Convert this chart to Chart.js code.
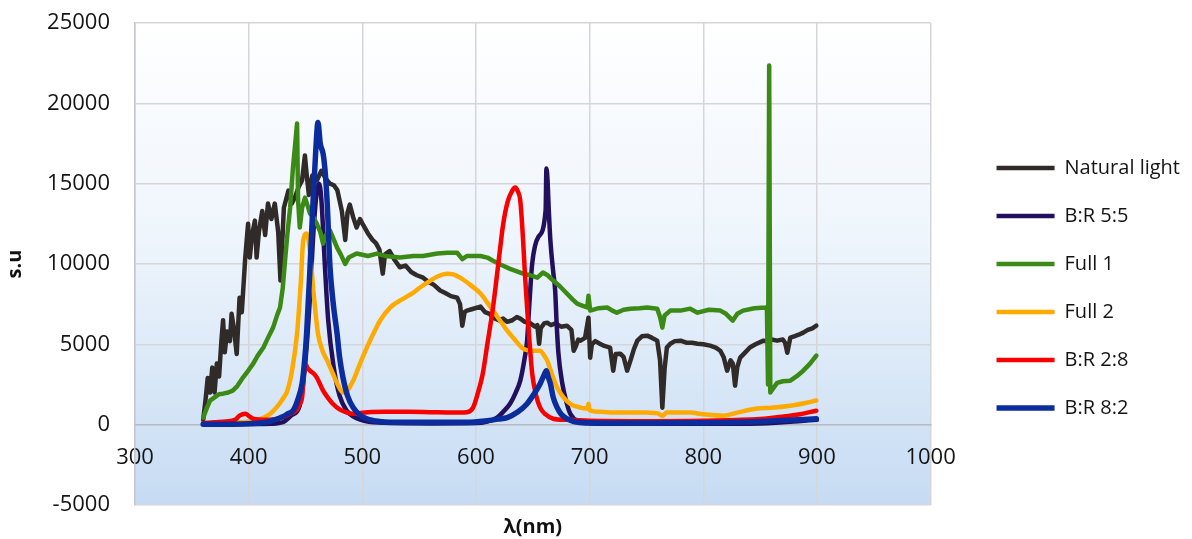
<!DOCTYPE html>
<html>
<head>
<meta charset="utf-8">
<script src="https://cdn.jsdelivr.net/npm/chart.js@4.4.0/dist/chart.umd.min.js"></script>
<style>
  html, body { margin: 0; padding: 0; background: #ffffff; }
  #wrap { width: 1192px; height: 539px; position: relative; }
</style>
</head>
<body>
<div id="wrap"><canvas id="spectra"></canvas></div>
<script>
// wavelength axis ticks
const xTicks = [300, 400, 500, 600, 700, 800, 900, 1000];
const yTicks = [-5000, 0, 5000, 10000, 15000, 20000, 25000];

// Natural light
const natWl = [360, 362, 364, 366, 368, 370, 372, 374, 376, 377.5, 379, 381, 383.5, 385, 387, 389.5, 392, 394, 397, 399.5,
  401, 403, 405.5, 407, 409, 412, 414.5, 417, 420, 423, 426, 428, 431, 435, 438, 441, 444, 447, 449.5, 451,
  453, 456, 460, 464, 468, 471.5, 475, 478, 482, 485, 487, 489, 492, 495, 498, 501, 505, 509, 512, 515,
  518, 520, 524, 528, 533, 538, 543, 548, 553.5, 558, 563, 568.5, 573, 578, 583.5, 586, 588, 590, 592, 597,
  604, 608, 612, 615, 620, 624, 627.5, 632, 636, 639, 643, 648, 652, 654, 655.6, 657, 660, 662.7, 666, 670,
  675, 680, 684, 686, 688, 690, 692, 696, 699, 700.5, 702, 705, 709, 713, 718, 720.8, 723, 727, 730, 733,
  736, 739, 742, 746, 750.7, 755, 759.5, 762, 764, 766, 768, 771, 775, 780, 785, 790, 795, 800, 806, 811,
  815, 818, 821, 824, 826, 828, 830, 832.5, 837, 841, 846, 853, 857, 860, 865, 870, 872, 874, 876.6, 880,
  884, 888, 892, 896, 899.5];
const natVal = [300, 1500, 2900, 2000, 3550, 2000, 3800, 3000, 5200, 6500, 4500, 5800, 5200, 6900, 6000, 4400, 7900, 7000, 10400, 12500,
  10400, 11800, 12700, 10400, 12000, 13300, 11800, 13760, 12800, 13760, 12000, 8970, 13500, 14570, 13760, 14200, 14800, 15200, 16750, 15600,
  14300, 15500, 15200, 15800, 15300, 15000, 14900, 14600, 13300, 11500, 13200, 13700, 12900, 12270, 12800, 12400, 11900, 11500, 11300, 10900,
  9400, 10600, 10800, 10300, 9800, 9900, 9500, 9300, 9150, 8900, 8700, 8350, 8200, 8000, 7900, 7500, 6160, 7000, 7100, 7200,
  7350, 7000, 6900, 6660, 6500, 6600, 6400, 6500, 6700, 6600, 6400, 6300, 6100, 6200, 5040, 6000, 6300, 6350, 6200, 6300,
  6100, 6160, 5900, 4600, 4900, 5300, 5230, 5400, 6660, 4170, 5000, 5200, 5040, 4900, 4800, 3360, 4400, 4420, 4200, 3360,
  4000, 4700, 5230, 5500, 5540, 5400, 5230, 4000, 1060, 3500, 4800, 5040, 5200, 5230, 5100, 5100, 5040, 5000, 4920, 4800,
  4600, 4200, 3360, 4000, 3800, 2430, 3600, 4170, 4500, 4800, 5000, 5230, 5200, 5300, 5230, 5300, 5100, 4480, 5420, 5500,
  5600, 5730, 5900, 6000, 6160];

// B:R 5:5
const br55Wl = [360, 380, 400, 420, 430, 438, 445, 450, 454, 457, 460, 462, 464, 467, 470, 475, 480, 486, 495, 510,
  560, 600, 610, 618.6, 624, 630, 635, 639, 643, 645, 647, 649.5, 655, 661.3, 662, 663, 664, 665.5, 668, 669.7,
  671, 672.5, 676, 680, 683, 690, 700, 750, 800, 850, 900];
const br55Val = [20, 30, 40, 60, 150, 600, 1200, 4000, 8000, 12000, 14500, 15000, 14000, 10000, 6500, 3500, 1800, 900, 400, 150,
  80, 100, 200, 440, 800, 1300, 2000, 2740, 4200, 5230, 7500, 10030, 11700, 13330, 15940, 15200, 13500, 11460, 9500, 8340,
  6300, 4500, 2550, 1300, 680, 200, 80, 60, 60, 80, 300];

// Full 1
const full1Wl = [360, 363, 366, 370, 374, 377.5, 382, 386, 390, 395, 400, 404, 408, 413, 417, 421.5, 425, 427.6, 430, 432,
  434, 436.5, 439, 441, 442.6, 443.5, 445, 447, 449.6, 452, 454, 457, 460, 463, 465.5, 468, 471.6, 475, 477.8, 481,
  485, 488, 495, 505, 513, 520, 533, 545, 553.5, 566, 575, 583.5, 588, 592, 604, 610, 615, 622, 630, 641.5,
  648, 654, 659, 663, 668, 674, 680, 685, 689, 694, 698, 699, 700.5, 708, 715.5, 720, 724, 730, 736, 744,
  750.7, 759.5, 762, 764, 766, 771, 780, 788.5, 795, 805, 815, 820, 826, 830, 835, 845, 854.5, 856, 857, 858,
  859, 861, 865, 870, 876.6, 882, 888, 894, 899.5];
const full1Val = [440, 1000, 1500, 1700, 1900, 1930, 2000, 2120, 2400, 2930, 3400, 3800, 4300, 4800, 5400, 6040, 6800, 7290, 8500, 10200,
  11800, 13500, 16000, 17500, 18740, 13950, 12270, 13500, 14130, 13600, 13140, 12900, 12500, 12000, 11270, 11800, 12080, 11500, 11020, 10600,
  10000, 10400, 10650, 10500, 10650, 10500, 10400, 10500, 10500, 10650, 10700, 10700, 10300, 10500, 10500, 10400, 10200, 9950, 9700, 9400,
  9300, 9150, 9470, 9300, 8970, 8600, 8160, 7800, 7530, 7400, 7300, 8030, 7100, 7250, 7290, 7100, 6970, 7150, 7220, 7250,
  7290, 7220, 6700, 6040, 6800, 7100, 7100, 7220, 6970, 7150, 7100, 6900, 6480, 6900, 7100, 7250, 7290, 7300, 2500, 22350,
  2000, 2200, 2600, 2700, 2740, 3000, 3360, 3800, 4300];

// Full 2
const full2Wl = [360, 380, 400, 410, 419, 426, 430, 434, 438, 442.6, 446, 448, 451, 454, 456.7, 461, 465, 469, 474, 478,
  483, 486, 492, 498, 504, 510, 515.7, 524.5, 535, 545, 552, 560, 567, 574.6, 580, 586, 595, 604, 610, 615,
  621, 627.5, 634, 641.5, 650, 656.5, 660, 662.7, 667, 671.5, 677, 683, 690, 698, 699, 700, 710, 721, 740, 750.7,
  760, 764, 768, 780, 788.5, 800, 818, 830, 847.5, 860, 876.6, 890, 899.5];
const full2Val = [50, 100, 200, 350, 680, 1200, 1600, 2100, 3300, 5670, 9000, 11460, 11900, 10800, 8530, 5670, 4600, 4000, 3200, 2550,
  2000, 2050, 2740, 3800, 4800, 5700, 6480, 7290, 7800, 8220, 8600, 8970, 9250, 9400, 9350, 9150, 8700, 8160, 7600, 7100,
  6500, 5850, 5300, 4730, 4600, 4600, 4300, 3990, 3100, 2300, 1700, 1300, 1100, 1000, 1300, 900, 800, 750, 760, 750,
  700, 560, 750, 760, 750, 650, 560, 750, 1000, 1050, 1180, 1350, 1500];

// B:R 2:8
const br28Wl = [360, 370, 380, 388, 392, 397, 401, 404, 415, 425, 436.5, 442, 445, 447, 448.5, 449.6, 452, 454, 457, 460,
  465.5, 470, 474, 480, 486.5, 492, 500, 505, 520, 540, 560, 580, 592, 597.5, 601, 606, 610, 615, 620, 624,
  628, 632, 634.5, 637, 639, 641.5, 643, 645, 647, 649.5, 653, 656.5, 661, 668, 680, 700, 750, 800, 850, 870,
  885, 899.5];
const br28Val = [100, 150, 200, 300, 560, 680, 500, 370, 300, 350, 680, 900, 1300, 1700, 3000, 3800, 3500, 3360, 3200, 2930,
  2120, 1650, 1300, 950, 750, 680, 750, 780, 800, 800, 780, 760, 780, 1060, 1800, 3170, 5000, 7290, 10200, 12500,
  13900, 14570, 14760, 14500, 13950, 11460, 9500, 7290, 5300, 3170, 1800, 1060, 650, 370, 300, 250, 220, 250, 350, 500,
  650, 870];

// B:R 8:2
const br82Wl = [360, 380, 400, 415, 421, 430, 435, 439, 443, 447, 449, 451, 454, 456.7, 459, 461, 463, 465.5, 467, 469,
  471.6, 474.5, 477.8, 480, 483, 487, 492, 498, 504, 515, 524.5, 560, 592, 610, 620, 627.5, 637, 645, 651, 656.5,
  660, 662, 663.5, 665.5, 668, 671.5, 675, 680, 686, 700, 750, 800, 850, 899.5];
const br82Val = [20, 30, 50, 150, 250, 500, 700, 870, 1500, 2550, 3800, 5670, 9780, 13950, 17000, 18800, 17500, 16870, 16000, 13950,
  9780, 7500, 5670, 4200, 2930, 1800, 1060, 600, 370, 200, 150, 150, 150, 250, 350, 440, 800, 1300, 1900, 2550,
  3100, 3360, 3000, 2550, 1700, 1060, 650, 370, 200, 120, 100, 120, 200, 370];

const series = [
  { label: "Natural light", wl: natWl, val: natVal, color: "#302b29", width: 4.5, smooth: false },
  { label: "B:R 5:5", wl: br55Wl, val: br55Val, color: "#22105e", width: 4.5, smooth: true },
  { label: "Full 1", wl: full1Wl, val: full1Val, color: "#3b8a16", width: 4.5, smooth: false },
  { label: "Full 2", wl: full2Wl, val: full2Val, color: "#ffaa00", width: 4.5, smooth: true },
  { label: "B:R 2:8", wl: br28Wl, val: br28Val, color: "#f80000", width: 4.5, smooth: true },
  { label: "B:R 8:2", wl: br82Wl, val: br82Val, color: "#0b2c9c", width: 5.5, smooth: true },
];

Chart.defaults.font.family = "'Open Sans', 'DejaVu Sans', sans-serif";
Chart.defaults.color = "#141414";

// light blue gradient behind the plot
const plotBg = {
  id: "plotBg",
  beforeDraw(chart) {
    const { ctx, chartArea: a } = chart;
    const g = ctx.createLinearGradient(0, a.top, 0, a.bottom);
    g.addColorStop(0, "#ffffff");
    g.addColorStop(0.45, "#eef5fc");
    g.addColorStop(1, "#c6dbf3");
    ctx.save();
    ctx.fillStyle = g;
    ctx.fillRect(a.left, a.top, a.right - a.left, a.bottom - a.top);
    ctx.restore();
  },
};

// push the legend a bit right/down from where the layout puts it
const legendNudge = {
  id: "legendNudge",
  afterLayout(chart) {
    const l = chart.legend;
    if (!l) return;
    l.left += 38;
    l.right += 38;
    l.top += 7;
    l.bottom += 7;
  },
};

new Chart(document.getElementById("spectra"), {
  type: "line",
  data: {
    datasets: series.map((s, i) => ({
      label: s.label,
      data: s.wl.map((x, k) => ({ x: x, y: s.val[k] })),
      borderColor: s.color,
      backgroundColor: s.color,
      borderWidth: s.width,
      pointRadius: 0,
      tension: s.smooth ? 0.4 : 0,
      cubicInterpolationMode: s.smooth ? "monotone" : "default",
      borderCapStyle: "round",
      borderJoinStyle: "round",
      order: series.length - i,
    })),
  },
  options: {
    responsive: true,
    maintainAspectRatio: false,
    animation: false,
    layout: { padding: { top: 23, right: 40, bottom: 0, left: 0 } },
    scales: {
      x: {
        type: "linear",
        min: xTicks[0],
        max: xTicks[xTicks.length - 1],
        position: { y: 0 },
        afterBuildTicks: (scale) => {
          scale.ticks = xTicks.map((v) => ({ value: v }));
        },
        ticks: {
          padding: 20,
          maxRotation: 0,
          color: "#141414",
          font: { size: 22 },
          callback: (v) => String(v),
        },
        grid: { color: "#d6d6da", lineWidth: 1.5, drawTicks: false },
        border: { color: "#b6bac2", width: 1.5 },
      },
      y: {
        min: yTicks[0],
        max: yTicks[yTicks.length - 1],
        afterBuildTicks: (scale) => {
          scale.ticks = yTicks.map((v) => ({ value: v }));
        },
        afterFit: (scale) => {
          scale.width = 135;
        },
        ticks: {
          padding: 0,
          color: "#141414",
          font: { size: 22 },
          callback: (v) => String(v),
        },
        // invisible tick marks keep the labels clear of the axis
        grid: { color: "#d6d6da", lineWidth: 1.5, drawTicks: true, tickLength: 25, tickColor: "rgba(0,0,0,0)" },
        border: { color: "#c6c6cc", width: 1.5 },
        title: {
          display: true,
          text: "s.u",
          color: "#111111",
          font: { size: 20, weight: "bold" },
          padding: { top: 3, bottom: 0 },
        },
      },
    },
    plugins: {
      legend: {
        position: "right",
        align: "center",
        labels: {
          usePointStyle: true,
          pointStyle: "line",
          pointStyleWidth: 58,
          padding: 28,
          color: "#141414",
          font: { size: 20 },
          sort: (a, b) => a.datasetIndex - b.datasetIndex,
        },
      },
      title: {
        display: true,
        text: "λ(nm)",
        position: "bottom",
        fullSize: false,
        color: "#111111",
        font: { size: 20, weight: "bold" },
        padding: { top: 10, bottom: 0 },
      },
      tooltip: { enabled: false },
    },
  },
  plugins: [plotBg, legendNudge],
});
</script>
</body>
</html>
